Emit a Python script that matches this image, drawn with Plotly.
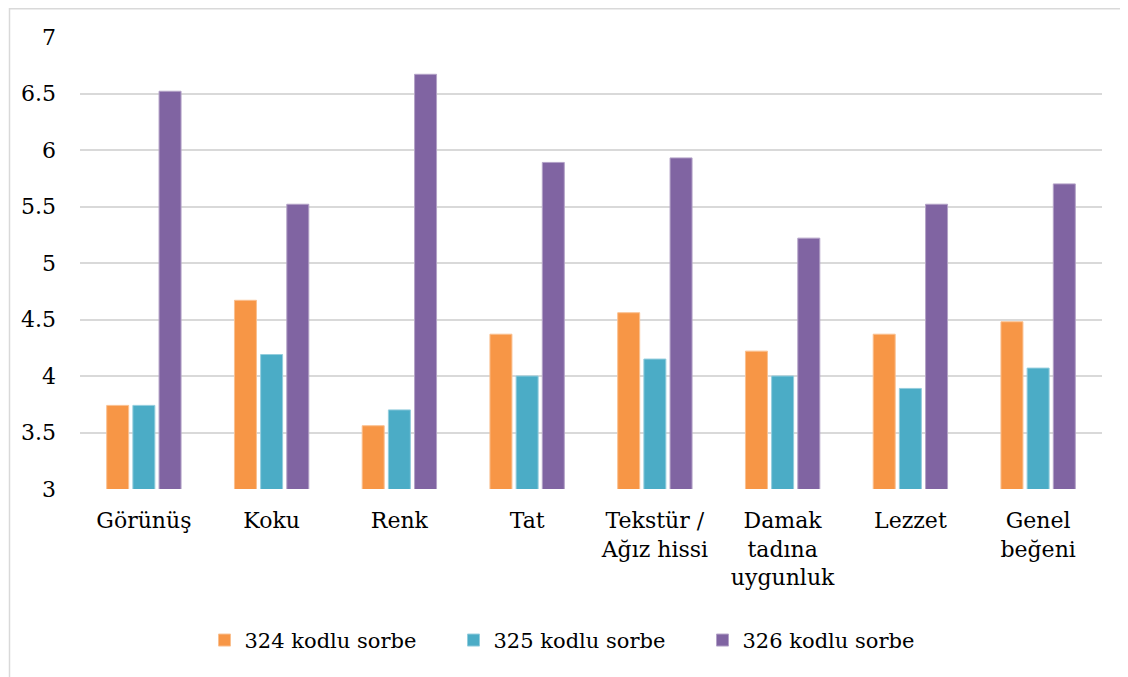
import plotly.graph_objects as go

categories = ["Görünüş", "Koku", "Renk", "Tat", "Tekstür /<br>Ağız hissi",
              "Damak<br>tadına<br>uygunluk", "Lezzet", "Genel<br>beğeni"]
s324 = [3.74, 4.67, 3.56, 4.37, 4.56, 4.22, 4.37, 4.48]
s325 = [3.74, 4.19, 3.70, 4.00, 4.15, 4.00, 3.89, 4.07]
s326 = [6.52, 5.52, 6.67, 5.89, 5.93, 5.22, 5.52, 5.70]
series_names = ["324 kodlu sorbe", "325 kodlu sorbe", "326 kodlu sorbe"]
colors = ["#F79646", "#4BACC6", "#8064A2"]
edge_colors = ["#FAC090", "#93CDDD", "#B3A2C7"]
y_ticks = [3, 3.5, 4, 4.5, 5, 5.5, 6, 6.5, 7]

FONT = "DejaVu Serif"
FS = 22

# page has an 8px body margin; figure sized to fill the rest of the window
W, H = 1120, 669
PL, PR, PT, PB = 80, 1102, 37, 488.7   # plot area in page coordinates
ph = PB - PT
pw = PR - PL

fig = go.Figure()
for name, vals, c, ec in zip(series_names, [s324, s325, s326], colors, edge_colors):
    fig.add_trace(go.Bar(x=categories, y=vals, name=name,
                         marker=dict(color=c, line=dict(color=ec, width=1))))

fig.update_layout(
    width=W, height=H,
    margin=dict(l=PL - 8, r=1128 - PR, t=PT - 8, b=677 - PB),
    paper_bgcolor="white", plot_bgcolor="white",
    barmode="group", bargap=0.385, bargroupgap=0.16,
    font=dict(family=FONT, size=FS, color="#000000"),
    showlegend=True,
    legend=dict(orientation="h", x=(578 - PL) / pw, xanchor="center",
                y=(PB - 640) / ph, yanchor="middle",
                font=dict(family=FONT, size=21, color="#000000"),
                traceorder="normal", itemwidth=30,
                entrywidth=204, entrywidthmode="pixels"),
    xaxis=dict(showgrid=False, showline=False, ticks="", tickangle=0,
               ticklabelstandoff=16,
               tickfont=dict(family=FONT, size=FS, color="#000000")),
    yaxis=dict(range=[3, 7], tickvals=y_ticks, ticktext=[f"{v:g}" for v in y_ticks],
               showgrid=True, gridcolor="#D9D9D9", gridwidth=1.5,
               zeroline=False, showline=False, ticks="", ticklabelstandoff=23,
               tickfont=dict(family=FONT, size=FS, color="#000000")),
    shapes=[dict(type="rect", xref="paper", yref="paper",
                 x0=(9.5 - PL) / pw, x1=(1150 - PL) / pw,
                 y0=(PB - 700) / ph, y1=1 + (PT - 8.8) / ph,
                 line=dict(color="#D9D9D9", width=1.5), fillcolor="rgba(0,0,0,0)",
                 layer="below")],
)

fig.write_html("out.html")
